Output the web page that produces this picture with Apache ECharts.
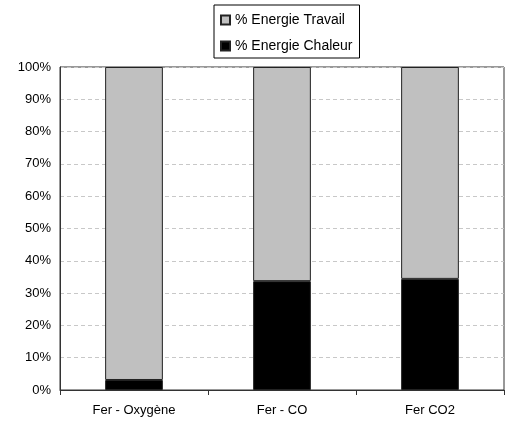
<!DOCTYPE html>
<html><head><meta charset="utf-8">
<script src="https://cdn.jsdelivr.net/npm/echarts@6/dist/echarts.min.js"></script>
<style>html,body{margin:0;padding:0;background:#fff}#c{width:506px;height:425px}</style>
</head><body><div id="c"></div>
<script>
const categories = ['Fer - Oxygène', 'Fer - CO', 'Fer CO2'];
const chaleur = [3.1, 33.7, 34.4];
const travail = [96.9, 66.3, 65.6];
const seriesNames = ['% Energie Travail', '% Energie Chaleur'];

const chart = echarts.init(document.getElementById('c'), null, {renderer: 'canvas'});
const font = 'Liberation Sans, Arial, sans-serif';
chart.setOption({
  animation: false,
  textStyle: {fontFamily: font},
  legend: {
    data: seriesNames,
    orient: 'vertical',
    left: 214, top: 5,
    padding: [8, 7, 5, 6],
    borderColor: '#000', borderWidth: 1,
    itemWidth: 9, itemHeight: 9, itemGap: 12,
    icon: 'rect',
    textStyle: {fontSize: 14, color: '#000', fontFamily: font},
    selectedMode: false
  },
  grid: {left: 60, right: 2, top: 67, bottom: 35, show: true, borderColor: '#333', borderWidth: 1},
  xAxis: {
    type: 'category', data: categories,
    axisLine: {lineStyle: {color: '#333', width: 1}},
    axisTick: {show: true, length: 5, lineStyle: {color: '#333'}},
    axisLabel: {color: '#000', fontSize: 13, margin: 14, fontFamily: font}
  },
  yAxis: {
    type: 'value', min: 0, max: 100, interval: 10,
    axisLine: {show: true, lineStyle: {color: '#333', width: 1}},
    axisTick: {show: false},
    axisLabel: {formatter: '{value}%', color: '#000', fontSize: 13, margin: 9, fontFamily: font},
    splitLine: {lineStyle: {color: '#c8c8c8', type: [4, 3]}}
  },
  series: [
    {name: seriesNames[1], type: 'bar', stack: 's', data: chaleur, barWidth: '39%',
     itemStyle: {color: '#000', borderColor: '#222', borderWidth: 1}},
    {name: seriesNames[0], type: 'bar', stack: 's', data: travail, barWidth: '39%',
     itemStyle: {color: '#c0c0c0', borderColor: '#222', borderWidth: 1}}
  ]
});
</script></body></html>
